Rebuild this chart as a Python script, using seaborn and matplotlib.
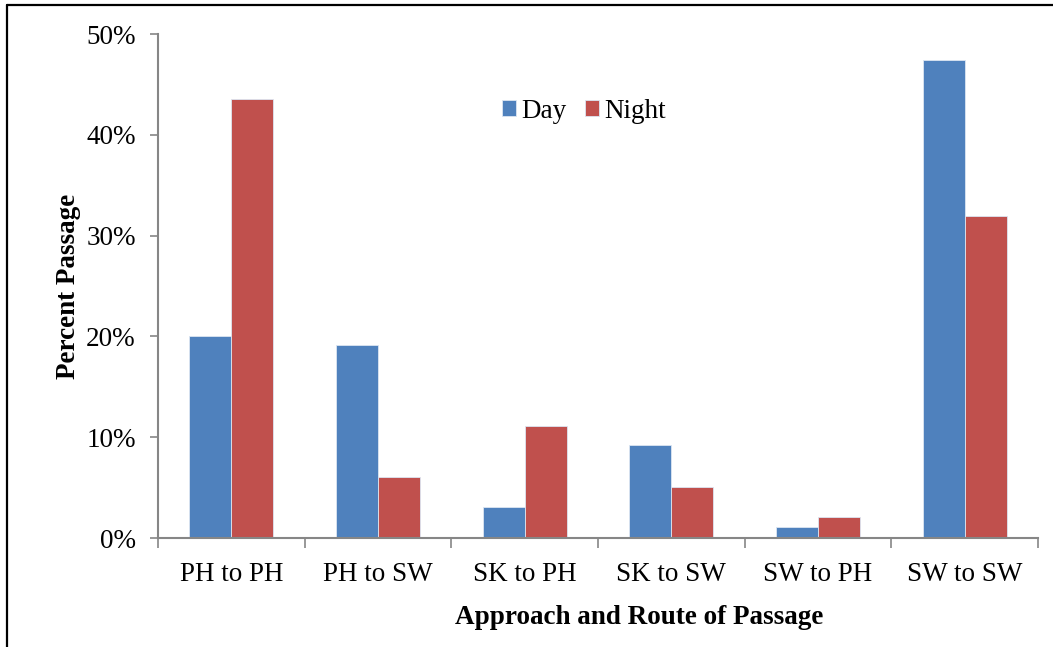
import matplotlib
matplotlib.use("Agg")
import matplotlib.pyplot as plt
from matplotlib.lines import Line2D
from matplotlib.ticker import FixedLocator, PercentFormatter
import seaborn as sns
import pandas as pd

routes = ["PH to PH", "PH to SW", "SK to PH", "SK to SW", "SW to PH", "SW to SW"]
day = [20.0, 19.1, 3.1, 9.2, 1.1, 47.4]
night = [43.6, 6.1, 11.1, 5.1, 2.1, 31.9]
periods = ["Day", "Night"]
y_ticks = [0, 10, 20, 30, 40, 50]

df = pd.DataFrame({
    "route": routes * 2,
    "period": [periods[0]] * len(routes) + [periods[1]] * len(routes),
    "pct": day + night,
})

sns.set_theme(style="white")
plt.rcParams["font.family"] = ["Liberation Serif", "DejaVu Serif"]
plt.rcParams["text.color"] = "black"
plt.rcParams["axes.labelcolor"] = "black"
plt.rcParams["xtick.labelcolor"] = "black"
plt.rcParams["ytick.labelcolor"] = "black"

fig = plt.figure(figsize=(10.53, 6.47), dpi=100)
ax = fig.add_axes([158 / 1053, 1 - 538 / 647, (1038 - 158) / 1053, (538 - 34) / 647])

palette = {"Day": "#4F81BD", "Night": "#C0504D"}
sns.barplot(data=df, x="route", y="pct", hue="period", order=routes,
            hue_order=periods, palette=palette, width=0.573, gap=0,
            edgecolor="#DCE6F2", linewidth=0.6, saturation=1, ax=ax)

ax.set_ylim(0, 50)
ax.set_xlim(-0.5, len(routes) - 0.5)
ax.yaxis.set_major_locator(FixedLocator(y_ticks))
ax.yaxis.set_major_formatter(PercentFormatter(decimals=0))

for s in ["top", "right"]:
    ax.spines[s].set_visible(False)
for s in ["left", "bottom"]:
    ax.spines[s].set_color("#868686")
    ax.spines[s].set_linewidth(1.5)

ax.tick_params(axis="y", which="major", direction="out", length=6, width=1.2,
               color="#868686", labelcolor="black", labelsize=19.5, pad=10, left=True)
ax.tick_params(axis="x", which="major", length=0, labelsize=19.5, pad=17,
               labelcolor="black")
ax.xaxis.set_minor_locator(FixedLocator([i - 0.5 for i in range(len(routes) + 1)]))
ax.tick_params(axis="x", which="minor", direction="out", length=7, width=1.2,
               color="#868686", bottom=True)

ax.set_xlabel("Approach and Route of Passage", fontsize=19.5, fontweight="bold",
              labelpad=18, color="black")
ax.xaxis.set_label_coords((639 - 158) / 880, -(617 - 538) / 504, transform=ax.transAxes)
ax.xaxis.label.set_va("center")
ax.set_ylabel("Percent Passage", fontsize=19.5, fontweight="bold", labelpad=4,
              color="black")

leg = ax.legend(loc="center", bbox_to_anchor=((584 - 158) / 880, (538 - 111) / 504),
                ncol=2, frameon=False, fontsize=19.5, handlelength=0.5,
                handleheight=0.5, handletextpad=0.2, columnspacing=0.7)
for t in leg.get_texts():
    t.set_color("black")

fig.add_artist(Line2D([7 / 1053, 7 / 1053], [0, 1 - 5 / 647], color="black",
                      linewidth=1.6, transform=fig.transFigure))
fig.add_artist(Line2D([7 / 1053, 1], [1 - 5 / 647, 1 - 5 / 647], color="black",
                      linewidth=1.6, transform=fig.transFigure))

fig.savefig("out.png", dpi=100, facecolor="white")
